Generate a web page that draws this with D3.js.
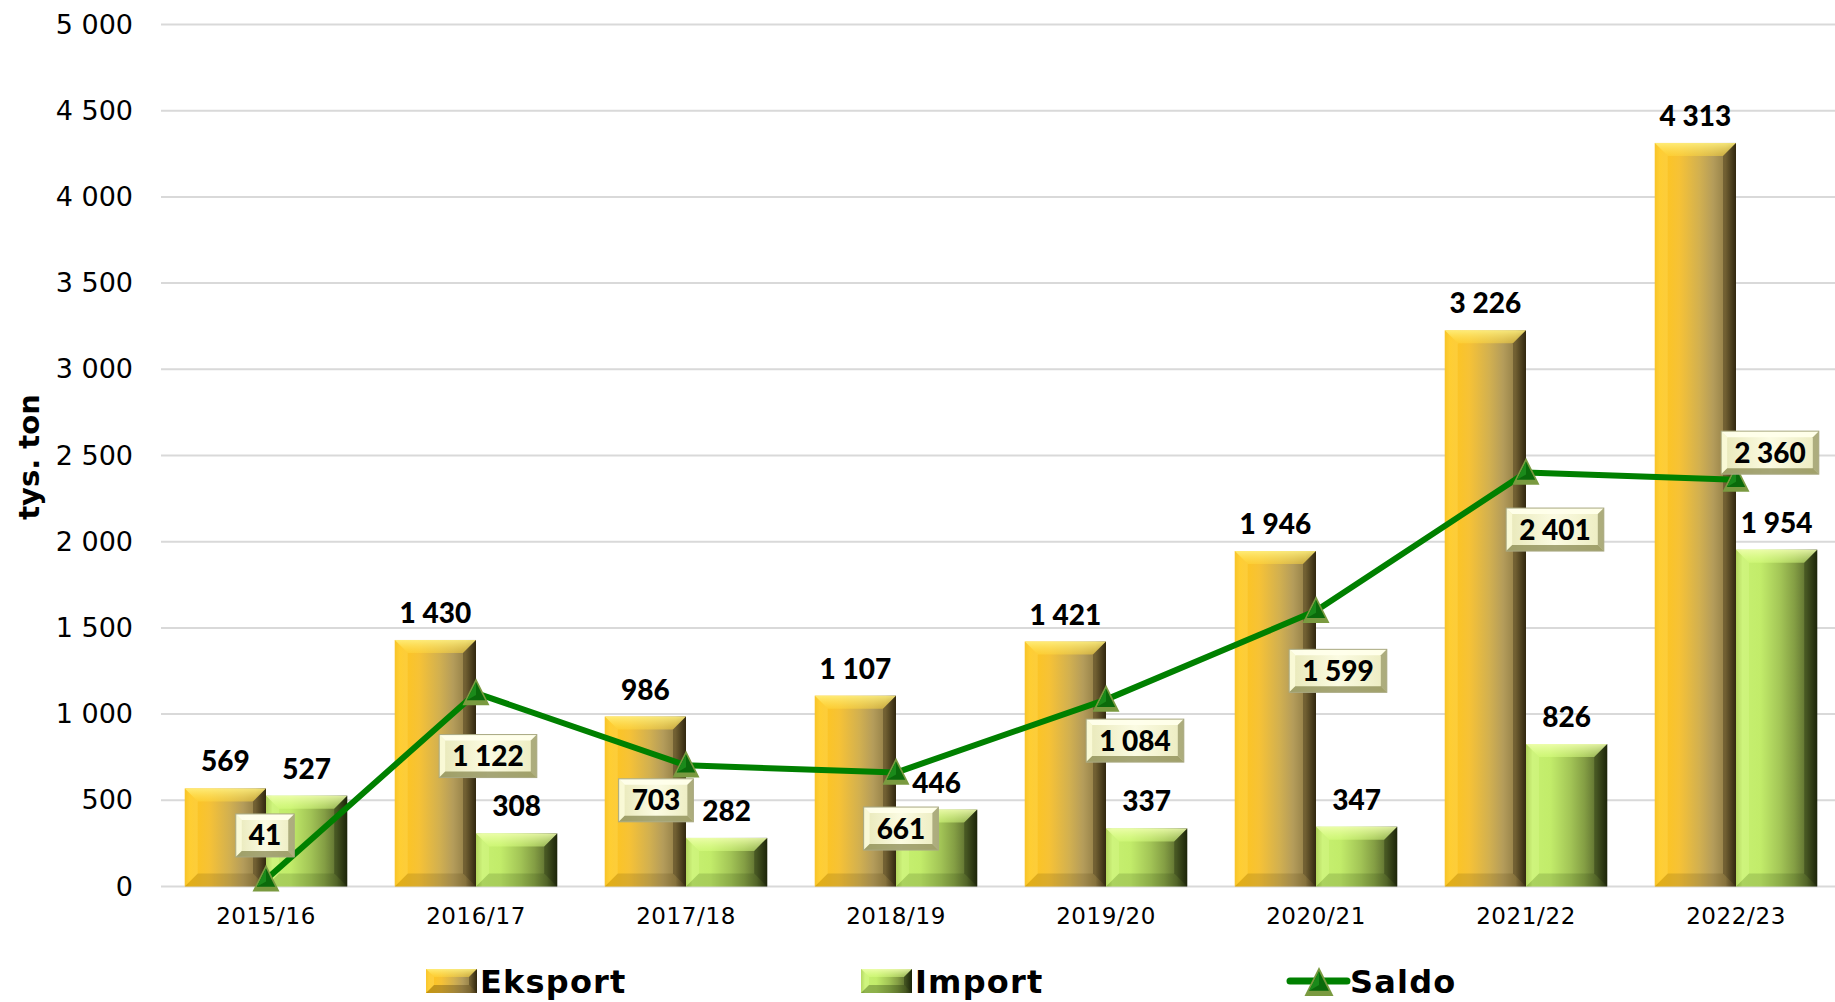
<!DOCTYPE html>
<html>
<head>
<meta charset="utf-8">
<script src="https://cdn.jsdelivr.net/npm/d3@7"></script>
<style>
  html, body { margin: 0; padding: 0; background: #fff; }
  svg { display: block; }
</style>
</head>
<body>
<svg id="chart" width="1835" height="1002"></svg>
<script>
// ---------- DATA ----------
const categories = ["2015/16", "2016/17", "2017/18", "2018/19", "2019/20", "2020/21", "2021/22", "2022/23"];
const eksport = [569, 1430, 986, 1107, 1421, 1946, 3226, 4313];
const importVals = [527, 308, 282, 446, 337, 347, 826, 1954];
const saldo = [41, 1122, 703, 661, 1084, 1599, 2401, 2360];
const yTicks = [0, 500, 1000, 1500, 2000, 2500, 3000, 3500, 4000, 4500, 5000];
const seriesNames = ["Eksport", "Import", "Saldo"];
const yTitle = "tys. ton";

// ---------- LAYOUT (not data) ----------
const saldoLabelOffsets = [[-1, -44], [12, 63], [-30, 35], [5, 56], [29, 41], [22, 60], [29, 57], [34, -27]];

const svg = d3.select("#chart");
const plot = { left: 161, right: 1841, top: 24.5, bottom: 886.5 };

const x0 = d3.scaleBand().domain(categories).range([plot.left, plot.right]).padding(0);
const x1 = d3.scaleBand().domain(["Eksport", "Import"]).range([0, x0.step()]).paddingInner(0).paddingOuter(0.2926);
const y = d3.scaleLinear().domain([0, 5000]).range([plot.bottom, plot.top]);
const fmt = v => d3.format(",")(v).replace(/,/g, " ");

// ---------- DEFS ----------
const defs = svg.append("defs");
function hGrad(id, stops) {
  const g = defs.append("linearGradient").attr("id", id).attr("x1", "0").attr("x2", "1").attr("y1", "0").attr("y2", "0");
  stops.forEach(s => g.append("stop").attr("offset", s[0]).attr("stop-color", s[1]));
}
function vGrad(id, stops) {
  const g = defs.append("linearGradient").attr("id", id).attr("x1", "0").attr("x2", "0").attr("y1", "0").attr("y2", "1");
  stops.forEach(s => g.append("stop").attr("offset", s[0]).attr("stop-color", s[1]).attr("stop-opacity", s[2] == null ? 1 : s[2]));
}
hGrad("gExp", [[0, "#f5b80e"], [0.06, "#ffc61c"], [0.3, "#f6c236"], [0.55, "#d2b050"], [0.72, "#b49c5a"], [0.87, "#948048"], [1, "#3a3016"]]);
hGrad("gImp", [[0, "#a2c84a"], [0.08, "#c6f070"], [0.3, "#c2ec6a"], [0.55, "#a2c456"], [0.72, "#849e44"], [0.87, "#5e7030"], [1, "#252c0e"]]);
hGrad("gBox", [[0, "#e8e8b8"], [0.5, "#fbfbe2"], [1, "#ececc0"]]);
vGrad("gTopExp", [[0, "#fff080", 0.9], [1, "#ffd840", 0.5]]);
vGrad("gTopImp", [[0, "#f0ffb0", 0.9], [1, "#d8ff80", 0.5]]);

// ---------- BEVEL HELPER ----------
function bevel(g, x, yy, w, h, b, base, top, left, right, bottom, stroke) {
  b = Math.min(b, h / 2, w / 2);
  const grp = g.append("g");
  grp.append("rect").attr("x", x).attr("y", yy).attr("width", w).attr("height", h).attr("fill", base);
  grp.append("polygon").attr("points", [[x, yy], [x + w, yy], [x + w - b, yy + b], [x + b, yy + b]].join(" ")).attr("fill", top);
  grp.append("polygon").attr("points", [[x, yy], [x + b, yy + b], [x + b, yy + h - b], [x, yy + h]].join(" ")).attr("fill", left);
  grp.append("polygon").attr("points", [[x + w, yy], [x + w - b, yy + b], [x + w - b, yy + h - b], [x + w, yy + h]].join(" ")).attr("fill", right);
  grp.append("polygon").attr("points", [[x, yy + h], [x + w, yy + h], [x + w - b, yy + h - b], [x + b, yy + h - b]].join(" ")).attr("fill", bottom);
  if (stroke) grp.append("rect").attr("x", x).attr("y", yy).attr("width", w).attr("height", h).attr("fill", "none").attr("stroke", stroke).attr("stroke-width", 1);
  return grp;
}

// ---------- GRID ----------
svg.append("g").selectAll("line").data(yTicks).join("line")
  .attr("x1", plot.left).attr("x2", 1835)
  .attr("y1", d => y(d)).attr("y2", d => y(d))
  .attr("stroke", "#d9d9d9").attr("stroke-width", 2);

// ---------- AXES ----------
const yAxis = svg.append("g").attr("transform", `translate(${plot.left},0)`)
  .call(d3.axisLeft(y).tickValues(yTicks).tickSize(0).tickPadding(28).tickFormat(fmt));
yAxis.select(".domain").remove();
yAxis.selectAll("text").attr("font-family", "DejaVu Sans").attr("font-size", 27).attr("fill", "#000");

const xAxis = svg.append("g").attr("transform", `translate(0,${plot.bottom})`)
  .call(d3.axisBottom(x0).tickSize(0).tickPadding(21.5));
xAxis.select(".domain").remove();
xAxis.selectAll("text").attr("font-family", "DejaVu Sans").attr("font-size", 23).attr("letter-spacing", 0.6).attr("fill", "#000");

svg.append("text")
  .attr("transform", `translate(39,457) rotate(-90)`)
  .attr("text-anchor", "middle")
  .attr("font-family", "DejaVu Sans").attr("font-weight", "bold").attr("font-size", 29)
  .text(yTitle);

// ---------- BARS ----------
const barsG = svg.append("g");
const bw = x1.bandwidth();
categories.forEach((c, i) => {
  const xe = x0(c) + x1("Eksport");
  const xi = x0(c) + x1("Import");
  bevel(barsG, xe, y(eksport[i]), bw, y(0) - y(eksport[i]), 13, "url(#gExp)", "url(#gTopExp)",
    "rgba(255,230,120,0.25)", "rgba(30,20,0,0.3)", "rgba(60,40,0,0.15)");
  bevel(barsG, xi, y(importVals[i]), bw, y(0) - y(importVals[i]), 13, "url(#gImp)", "url(#gTopImp)",
    "rgba(230,255,160,0.25)", "rgba(10,20,0,0.3)", "rgba(20,40,0,0.15)");
});

// bar value labels
const labG = svg.append("g").attr("font-family", "Lato").attr("font-weight", 900).attr("font-size", 28).attr("text-anchor", "middle").attr("fill", "#000");
labG.selectAll("text.e").data(eksport).join("text").attr("class", "e")
  .attr("x", (d, i) => x0(categories[i]) + x1("Eksport") + bw / 2)
  .attr("y", d => y(d) - 17).text(fmt);
labG.selectAll("text.i").data(importVals).join("text").attr("class", "i")
  .attr("x", (d, i) => x0(categories[i]) + x1("Import") + bw / 2)
  .attr("y", d => y(d) - 17).text(fmt);

// ---------- SALDO LINE ----------
const cx = c => x0(c) + x0.step() / 2;
const line = d3.line().x((d, i) => cx(categories[i])).y(d => y(d));
svg.append("path").datum(saldo).attr("d", line).attr("fill", "none")
  .attr("stroke", "#008000").attr("stroke-width", 6).attr("stroke-linejoin", "round");

function triangle(g, px, py, s) {
  const h = s;
  const pts = [[px, py - h * 0.55], [px + s / 2, py + h * 0.45], [px - s / 2, py + h * 0.45]];
  g.append("polygon").attr("points", pts.join(" ")).attr("fill", "#7a9a40");
  const k = 0.68;
  const inner = pts.map(p => [px + (p[0] - px) * k, py + (p[1] - py) * k - 1]);
  g.append("polygon").attr("points", inner.join(" ")).attr("fill", "#0b6a0b");
  g.append("polygon").attr("points", [[inner[0][0], inner[0][1]], [inner[2][0], inner[2][1]], [px, py + 2]].join(" ")).attr("fill", "#1a8a1a");
}
const mk = svg.append("g");
saldo.forEach((v, i) => triangle(mk, cx(categories[i]), y(v), 27));

// saldo labels
const sg = svg.append("g");
saldo.forEach((v, i) => {
  const lx = cx(categories[i]) + saldoLabelOffsets[i][0];
  const ly = y(v) + saldoLabelOffsets[i][1];
  const t = sg.append("text").attr("x", lx).attr("y", ly + 10)
    .attr("font-family", "Lato").attr("font-weight", 900).attr("font-size", 28).attr("text-anchor", "middle").text(fmt(v));
  const tw = t.node().getComputedTextLength();
  const bwBox = tw + 26, bh = 43;
  const box = bevel(sg, lx - bwBox / 2, ly - bh / 2, bwBox, bh, 6, "url(#gBox)",
    "rgba(255,255,235,0.95)", "rgba(255,255,225,0.7)", "rgba(120,120,70,0.55)", "rgba(120,120,60,0.65)", "#a8a880");
  box.lower();
  sg.node().appendChild(t.node());
});
sg.raise();

// ---------- LEGEND ----------
const lg = svg.append("g").attr("font-family", "DejaVu Sans").attr("font-weight", "bold").attr("font-size", 32).attr("letter-spacing", 1.2);
bevel(lg, 426, 969, 51, 24, 8, "url(#gExp)", "url(#gTopExp)", "rgba(255,230,120,0.3)", "rgba(30,20,0,0.35)", "rgba(60,40,0,0.3)");
lg.append("text").attr("x", 480).attr("y", 993).text(seriesNames[0]);
bevel(lg, 861, 969, 51, 24, 8, "url(#gImp)", "url(#gTopImp)", "rgba(230,255,160,0.3)", "rgba(10,20,0,0.35)", "rgba(20,40,0,0.3)");
lg.append("text").attr("x", 915).attr("y", 993).text(seriesNames[1]);
lg.append("line").attr("x1", 1290).attr("x2", 1347).attr("y1", 981).attr("y2", 981).attr("stroke", "#008000").attr("stroke-width", 7).attr("stroke-linecap", "round");
triangle(lg, 1319, 983, 29);
lg.append("text").attr("x", 1350).attr("y", 993).text(seriesNames[2]);
</script>
</body>
</html>
